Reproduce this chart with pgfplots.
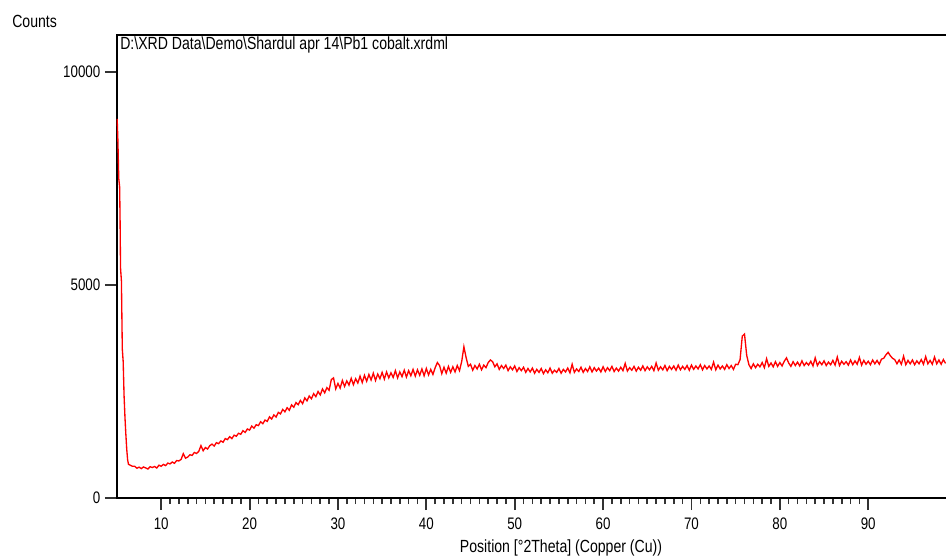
\documentclass[border=0pt]{standalone}
\usepackage{pgfplots}
\pgfplotsset{compat=1.18}
\usepackage{fontspec}
\setmainfont{Liberation Sans}[FakeStretch=0.8]

\begin{document}
\begin{tikzpicture}
\useasboundingbox (-87.75pt,-45pt) rectangle (621.75pt,373.5pt);
\begin{axis}[
    scale only axis,
    width=621.75pt, height=347.25pt,
    xmin=5, xmax=98.8,
    ymin=0, ymax=10870,
    axis line style={draw=none},
    tick pos=left,
    tick align=outside,
    xtick={10,20,...,90},
    minor x tick num=9,
    ytick={0,5000,10000},
    major tick length=9pt,
    minor tick length=4.5pt,
    every major tick/.append style={line width=1.4pt, black!80},
    every minor tick/.append style={line width=1.2pt, black!80},
    scaled y ticks=false,
    /pgf/number format/1000 sep={},
    /pgf/number format/assume math mode=true,
    tick label style={font=\fontsize{12.5}{14}\selectfont},
    xticklabel style={yshift=-2pt},
    clip=false,
]
\draw[line width=1.8pt, line cap=rect] (rel axis cs:1,1) -- (rel axis cs:0,1) -- (rel axis cs:0,0) -- (rel axis cs:1,0);
\addplot[red, line width=1pt] coordinates {
(5.02,8900) (5.1,8400) (5.2,7500) (5.3,7300) (5.35,6500) (5.4,5400) (5.5,5100)
(5.6,3500) (5.7,3200) (5.8,2400) (5.9,1900) (6.0,1500) (6.1,1150) (6.2,900)
(6.3,790) (6.5,770) (6.75,745)
(7.00,745) (7.25,700) (7.50,725) (7.75,690) (8.00,730) (8.25,705) (8.50,680) (8.75,735)
(9.00,715) (9.25,740) (9.50,705) (9.75,770) (10.00,745) (10.25,790) (10.50,760) (10.75,820)
(11.00,800) (11.25,845) (11.50,815) (11.75,880) (12.00,870) (12.25,905) (12.50,1040) (12.75,935)
(13.00,960) (13.25,1015) (13.50,1000) (13.75,1070) (14.00,1045) (14.25,1095) (14.50,1230) (14.75,1110)
(15.00,1185) (15.25,1150) (15.50,1230) (15.75,1265) (16.00,1220) (16.25,1300) (16.50,1275) (16.75,1340)
(17.00,1310) (17.25,1395) (17.50,1370) (17.75,1440) (18.00,1395) (18.25,1475) (18.50,1450) (18.75,1520)
(19.00,1495) (19.25,1580) (19.50,1540) (19.75,1620) (20.00,1595) (20.25,1690) (20.50,1640) (20.75,1720)
(21.00,1700) (21.25,1790) (21.50,1745) (21.75,1830) (22.00,1800) (22.25,1905) (22.50,1855) (22.75,1950)
(23.00,1900) (23.25,2010) (23.50,1975) (23.75,2080) (24.00,2025) (24.25,2120) (24.50,2060) (24.75,2185)
(25.00,2130) (25.25,2240) (25.50,2190) (25.75,2290) (26.00,2215) (26.25,2350) (26.50,2280) (26.75,2395)
(27.00,2330) (27.25,2450) (27.50,2380) (27.75,2500) (28.00,2420) (28.25,2560) (28.50,2470) (28.75,2590)
(29.00,2530) (29.25,2780) (29.50,2820) (29.75,2560) (30.00,2690) (30.25,2580) (30.50,2760) (30.75,2620)
(31.00,2750) (31.25,2650) (31.50,2810) (31.75,2660) (32.00,2800) (32.25,2700) (32.50,2860) (32.75,2710)
(33.00,2880) (33.25,2740) (33.50,2900) (33.75,2770) (34.00,2930) (34.25,2760) (34.50,2910) (34.75,2800)
(35.00,2950) (35.25,2790) (35.50,2960) (35.75,2820) (36.00,2940) (36.25,2830) (36.50,2990) (36.75,2820)
(37.00,2960) (37.25,2850) (37.50,3000) (37.75,2840) (38.00,2990) (38.25,2870) (38.50,3020) (38.75,2860)
(39.00,3010) (39.25,2880) (39.50,3030) (39.75,2870) (40.00,3040) (40.25,2890) (40.50,3020) (40.75,2900)
(41.00,3060) (41.25,3180) (41.50,3110) (41.75,2920) (42.00,3070) (42.25,2930) (42.50,3090) (42.75,2950)
(43.00,3080) (43.25,2960) (43.50,3110) (43.75,2990) (44.00,3200) (44.25,3550) (44.50,3300) (44.75,3090)
(45.00,3140) (45.25,3000) (45.50,3110) (45.75,3030) (46.00,3140) (46.25,3010) (46.50,3120) (46.75,3060)
(47.00,3180) (47.25,3240) (47.50,3200) (47.75,3080) (48.00,3150) (48.25,3020) (48.50,3110) (48.75,3040)
(49.00,3120) (49.25,2990) (49.50,3080) (49.75,3010) (50.00,3100) (50.25,2970) (50.50,3060) (50.75,2990)
(51.00,3070) (51.25,2950) (51.50,3040) (51.75,2960) (52.00,3050) (52.25,2930) (52.50,3020) (52.75,2950)
(53.00,3040) (53.25,2920) (53.50,3010) (53.75,2940) (54.00,3050) (54.25,2930) (54.50,3000) (54.75,2950)
(55.00,3040) (55.25,2930) (55.50,3020) (55.75,2960) (56.00,3050) (56.25,2940) (56.50,3140) (56.75,2950)
(57.00,3030) (57.25,2970) (57.50,3070) (57.75,2950) (58.00,3040) (58.25,2970) (58.50,3080) (58.75,2960)
(59.00,3060) (59.25,2980) (59.50,3050) (59.75,2960) (60.00,3080) (60.25,2970) (60.50,3060) (60.75,2990)
(61.00,3090) (61.25,2970) (61.50,3050) (61.75,2980) (62.00,3070) (62.25,2990) (62.50,3160) (62.75,2980)
(63.00,3060) (63.25,3000) (63.50,3090) (63.75,2980) (64.00,3070) (64.25,3000) (64.50,3100) (64.75,2990)
(65.00,3080) (65.25,3010) (65.50,3090) (65.75,2990) (66.00,3170) (66.25,3000) (66.50,3080) (66.75,3010)
(67.00,3110) (67.25,2990) (67.50,3090) (67.75,3020) (68.00,3100) (68.25,3000) (68.50,3120) (68.75,3010)
(69.00,3090) (69.25,3020) (69.50,3110) (69.75,3000) (70.00,3120) (70.25,3020) (70.50,3100) (70.75,3030)
(71.00,3130) (71.25,3010) (71.50,3110) (71.75,3030) (72.00,3100) (72.25,3020) (72.50,3190) (72.75,3010)
(73.00,3120) (73.25,3030) (73.50,3100) (73.75,3020) (74.00,3130) (74.25,3040) (74.50,3110) (74.75,3020)
(75.00,3140) (75.25,3130) (75.50,3250) (75.75,3800) (76.00,3850) (76.25,3350) (76.50,3130) (76.75,3040)
(77.00,3150) (77.25,3060) (77.50,3140) (77.75,3080) (78.00,3180) (78.25,3060) (78.50,3270) (78.75,3090)
(79.00,3170) (79.25,3080) (79.50,3200) (79.75,3090) (80.00,3180) (80.25,3100) (80.50,3210) (80.75,3290)
(81.00,3170) (81.25,3090) (81.50,3200) (81.75,3110) (82.00,3190) (82.25,3100) (82.50,3220) (82.75,3110)
(83.00,3180) (83.25,3120) (83.50,3210) (83.75,3100) (84.00,3290) (84.25,3110) (84.50,3200) (84.75,3130)
(85.00,3220) (85.25,3110) (85.50,3190) (85.75,3130) (86.00,3230) (86.25,3120) (86.50,3310) (86.75,3110)
(87.00,3210) (87.25,3140) (87.50,3200) (87.75,3120) (88.00,3240) (88.25,3130) (88.50,3220) (88.75,3140)
(89.00,3300) (89.25,3120) (89.50,3230) (89.75,3140) (90.00,3210) (90.25,3130) (90.50,3240) (90.75,3150)
(91.00,3230) (91.25,3140) (91.50,3260) (91.75,3280) (92.00,3360) (92.25,3420) (92.50,3340) (92.75,3280)
(93.00,3250) (93.25,3150) (93.50,3240) (93.75,3140) (94.00,3330) (94.25,3130) (94.50,3230) (94.75,3150)
(95.00,3240) (95.25,3130) (95.50,3220) (95.75,3150) (96.00,3250) (96.25,3140) (96.50,3320) (96.75,3150)
(97.00,3230) (97.25,3140) (97.50,3310) (97.75,3150) (98.00,3240) (98.25,3140) (98.50,3250) (98.75,3160)
};
\end{axis}
\node[anchor=west, inner sep=0pt, font=\fontsize{13.2}{15}\selectfont] at (-78.75pt,357.75pt) {Counts};
\node[anchor=west, inner sep=0pt, font=\fontsize{13.2}{15}\selectfont] at (2.25pt,339.75pt)
  {D:\textbackslash XRD Data\textbackslash Demo\textbackslash Shardul apr 14\textbackslash Pb1 cobalt.xrdml};
\node[font=\fontsize{13.2}{15}\selectfont] at (333pt,-37.5pt) {Position [°2Theta] (Copper (Cu))};
\end{tikzpicture}
\end{document}
